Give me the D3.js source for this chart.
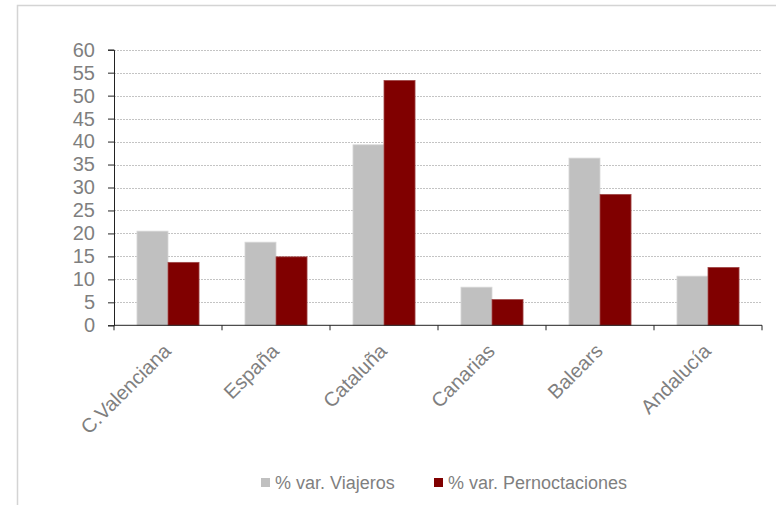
<!DOCTYPE html>
<html>
<head>
<meta charset="utf-8">
<script src="https://cdn.jsdelivr.net/npm/d3@7"></script>
<style>
  body { margin: 0; background: #fff; }
  text { font-family: "Liberation Sans", Arial, sans-serif; }
</style>
</head>
<body>
<div id="chart"></div>
<script>
// values
var regions = ["C.Valenciana", "España", "Cataluña", "Canarias", "Balears", "Andalucía"];
var viajeros = [20.5, 18.1, 39.3, 8.3, 36.4, 10.7];
var pernoctaciones = [13.7, 14.9, 53.3, 5.6, 28.5, 12.6];
var seriesNames = ["% var. Viajeros", "% var. Pernoctaciones"];
var yTicks = [0, 5, 10, 15, 20, 25, 30, 35, 40, 45, 50, 55, 60];

var colors = ["#c0c0c0", "#800000"];

var w = 776, h = 505;
var plotLeft = 114, plotRight = 762, plotTop = 49.7, plotBottom = 325.3;

var svg = d3.select("#chart").append("svg")
  .attr("width", w)
  .attr("height", h);

// outer frame
svg.append("rect")
  .attr("x", 17.5)
  .attr("y", 5.5)
  .attr("width", w)
  .attr("height", h)
  .attr("fill", "none")
  .attr("stroke", "#d4d4d4")
  .attr("stroke-width", 1.5);

var x = d3.scaleBand().domain(regions).range([plotLeft, plotRight]);
var x1 = d3.scaleBand().domain([0, 1]).range([0, x.bandwidth()]).paddingOuter(0.74).paddingInner(0);
var y = d3.scaleLinear().domain([0, 60]).range([plotBottom, plotTop]);

// grid lines
svg.append("g")
  .selectAll("line")
  .data(yTicks.slice(1))
  .enter().append("line")
  .attr("x1", plotLeft)
  .attr("x2", plotRight)
  .attr("y1", function(d) { return Math.round(y(d)) + 0.5; })
  .attr("y2", function(d) { return Math.round(y(d)) + 0.5; })
  .attr("stroke", "#c4c4c4")
  .attr("stroke-width", 1)
  .attr("stroke-dasharray", "2,1");

// bars
var table = regions.map(function(r, i) { return [viajeros[i], pernoctaciones[i]]; });

var groups = svg.append("g")
  .selectAll("g")
  .data(table)
  .enter().append("g")
  .attr("transform", function(d, i) { return "translate(" + x(regions[i]) + ",0)"; });

groups.selectAll("rect")
  .data(function(d) { return d; })
  .enter().append("rect")
  .attr("x", function(d, j) { return x1(j); })
  .attr("width", x1.bandwidth())
  .attr("y", function(d) { return y(d); })
  .attr("height", function(d) { return y(0) - y(d); })
  .attr("fill", function(d, j) { return colors[j]; })
  .attr("stroke", function(d, j) { return j ? "#a04848" : "#d8d8d8"; })
  .attr("stroke-width", 0.8);

// y axis
var yAxis = svg.append("g")
  .attr("transform", "translate(" + plotLeft + ",0)")
  .call(d3.axisLeft(y).tickValues(yTicks).tickSize(6).tickPadding(13));
yAxis.select(".domain").attr("stroke", "#222");
yAxis.selectAll(".tick line").attr("stroke", "#222");
yAxis.selectAll("text")
  .attr("fill", "#7f7f7f")
  .attr("font-size", 20);

// x axis
var xAxis = svg.append("g")
  .attr("transform", "translate(0," + plotBottom + ")");
xAxis.append("line")
  .attr("x1", plotLeft).attr("x2", plotRight)
  .attr("y1", 0).attr("y2", 0)
  .attr("stroke", "#222");
xAxis.selectAll(".xt")
  .data(regions.concat([null]))
  .enter().append("line")
  .attr("x1", function(d, i) { return plotLeft + i * x.step(); })
  .attr("x2", function(d, i) { return plotLeft + i * x.step(); })
  .attr("y1", 0).attr("y2", 5)
  .attr("stroke", "#222");

svg.append("g")
  .selectAll("text")
  .data(regions)
  .enter().append("text")
  .attr("transform", function(d) {
    return "translate(" + (x(d) + x.bandwidth() / 2 + 4) + "," + (plotBottom + 27) + ") rotate(-45)";
  })
  .attr("text-anchor", "end")
  .attr("fill", "#7f7f7f")
  .attr("font-size", 20)
  .text(function(d) { return d; });

// legend
var legendX = [261, 434];
var legend = svg.append("g")
  .selectAll("g")
  .data(seriesNames)
  .enter().append("g")
  .attr("transform", function(d, i) { return "translate(" + legendX[i] + ",478)"; });
legend.append("rect")
  .attr("width", 9).attr("height", 9)
  .attr("fill", function(d, i) { return colors[i]; });
legend.append("text")
  .attr("x", 14)
  .attr("y", 11)
  .attr("fill", "#7f7f7f")
  .attr("font-size", 18)
  .text(function(d) { return d; });
</script>
</body>
</html>
